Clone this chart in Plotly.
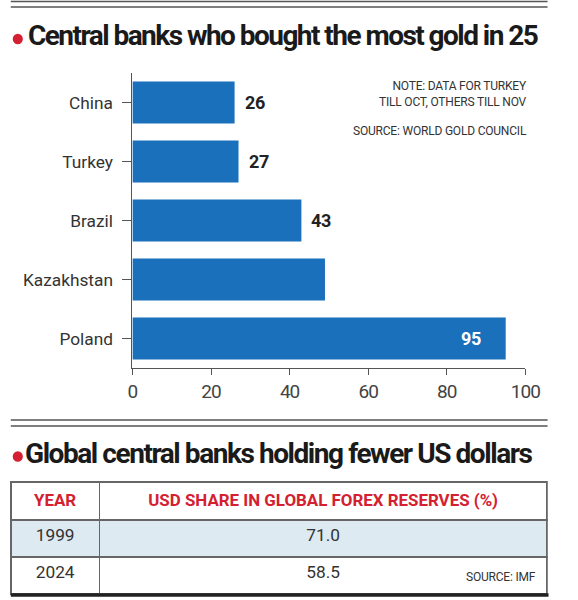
import plotly.graph_objects as go

# tonnes of gold bought by central banks in 2025
countries = ['China', 'Turkey', 'Brazil', 'Kazakhstan', 'Poland']
tonnes = [26, 27, 43, 49, 95]
shown_labels = ['26', '27', '43', '', '95']
x_ticks = [0, 20, 40, 60, 80, 100]

# USD share table
years = ['1999', '2024']
usd_share = ['71.0', '58.5']

W, H = 578, 600
FONT = 'Roboto, sans-serif'
BLUE = '#1a70bb'
RED = '#d42030'


def py(px):
    # pixel from the top -> paper y
    return 1 - px / H


def px_x(px):
    return px / W


def tight(s, ls):
    return '<span style="letter-spacing:%spx">%s</span>' % (ls, s)


fig = go.Figure()

fig.add_trace(go.Bar(
    x=tonnes, y=countries, orientation='h',
    marker=dict(color=BLUE, line=dict(width=0)),
    width=0.71,
))

annotations = []
for c, v, lab in zip(countries, tonnes, shown_labels):
    if not lab:
        continue
    inside = v > 80
    annotations.append(dict(
        x=v, y=c, xref='x', yref='y', text='<b>' + tight(lab, -0.3) + '</b>',
        showarrow=False, xanchor='right' if inside else 'left',
        xshift=-23 if inside else 8,
        font=dict(family=FONT, size=18, color='white' if inside else '#222'),
    ))

fig.add_trace(go.Table(
    domain=dict(x=[px_x(6), px_x(562)], y=[py(595), py(482)]),
    columnwidth=[92, 464],
    header=dict(
        values=['<b>YEAR</b>', '<b>USD SHARE IN GLOBAL FOREX RESERVES (%)</b>'],
        fill_color='white', line=dict(color='#666', width=1.5),
        align='center', height=38,
        font=dict(family=FONT, size=16.9, color=RED),
    ),
    cells=dict(
        values=[years, usd_share],
        fill_color=[['#deeaf2', 'white']],
        line=dict(color='#666', width=1.5),
        align='center', height=37,
        font=dict(family=FONT, size=17.3, color='#333'),
    ),
))

shapes = []
for yy in (1.5, 7, 420, 426):
    shapes.append(dict(type='line', xref='paper', yref='paper',
                       x0=px_x(6), x1=px_x(562), y0=py(yy), y1=py(yy),
                       line=dict(color='#555', width=1.5)))
shapes.append(dict(type='line', xref='paper', yref='paper',
                   x0=px_x(6), x1=px_x(563), y0=py(595), y1=py(595),
                   line=dict(color='#222', width=3.5)))
# red bullets in front of the two headlines
for cy in (39, 456.5):
    shapes.append(dict(type='circle', xref='paper', yref='paper',
                       x0=px_x(8), x1=px_x(18.5), y0=py(cy + 5.3), y1=py(cy - 5.3),
                       fillcolor=RED, line=dict(width=0)))

annotations += [
    dict(x=px_x(22), y=py(35), xref='paper', yref='paper', xanchor='left', yanchor='middle',
         text='<b>' + tight('Central banks who bought the most gold in 25', -1.54) + '</b>',
         showarrow=False, font=dict(family=FONT, size=28, color='#1a1a1a')),
    dict(x=px_x(18.2), y=py(453), xref='paper', yref='paper', xanchor='left', yanchor='middle',
         text='<b>' + tight('Global central banks holding fewer US dollars', -1.44) + '</b>',
         showarrow=False, font=dict(family=FONT, size=28, color='#1a1a1a')),
    dict(x=px_x(542.5), y=py(94), xref='paper', yref='paper', xanchor='right', yanchor='middle',
         text=tight('NOTE: DATA FOR TURKEY', -0.2) + '<br>' + tight('TILL OCT, OTHERS TILL NOV', -0.2),
         align='right', showarrow=False, font=dict(family=FONT, size=12, color='#333')),
    dict(x=px_x(542.5), y=py(131), xref='paper', yref='paper', xanchor='right', yanchor='middle',
         text=tight('SOURCE: WORLD GOLD COUNCIL', -0.2), align='right',
         showarrow=False, font=dict(family=FONT, size=12, color='#333')),
    dict(x=px_x(552), y=py(577), xref='paper', yref='paper', xanchor='right', yanchor='middle',
         text=tight('SOURCE: IMF', -0.2), showarrow=False, font=dict(family=FONT, size=12, color='#333')),
]

fig.update_layout(
    width=W, height=H,
    margin=dict(l=0, r=0, t=0, b=0),
    paper_bgcolor='white', plot_bgcolor='white',
    showlegend=False,
    font=dict(family=FONT, color='#333'),
    xaxis=dict(
        domain=[px_x(132), px_x(539)], range=[0, 100],
        tickvals=x_ticks, ticktext=[tight(str(t), -1) for t in x_ticks],
        showgrid=False, zeroline=False, showline=True, linecolor='#555', linewidth=1,
        ticks='outside', ticklen=6, tickcolor='#555',
        tickfont=dict(family=FONT, size=19, color='#444'),
    ),
    yaxis=dict(
        domain=[py(368), py(73)], autorange='reversed',
        categoryorder='array', categoryarray=countries,
        showgrid=False, zeroline=False, showline=True, linecolor='#555', linewidth=1,
        ticks='outside', ticklen=9, tickcolor='#555', ticklabelstandoff=6,
        tickfont=dict(family=FONT, size=17.3, color='#333'),
    ),
    shapes=shapes,
    annotations=annotations,
)

fig.write_html(
    'out.html', config={'displayModeBar': False},
    post_script="document.documentElement.style.overflow='hidden';"
                "document.body.style.margin='0'; document.body.style.overflow='hidden';",
)
